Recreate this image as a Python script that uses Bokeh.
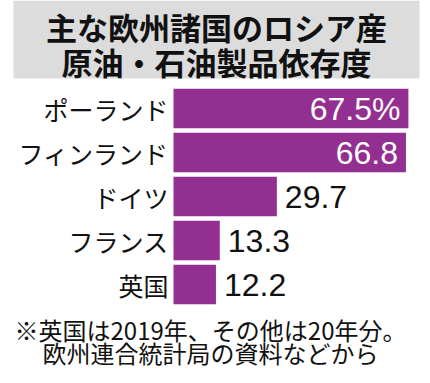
from bokeh.plotting import figure
from bokeh.models import Range1d, ColumnDataSource, Label, BoxAnnotation
from bokeh.core.properties import value
from bokeh.embed import file_html
from bokeh.resources import INLINE

# ---- data ----
title_lines = ["主な欧州諸国のロシア産", "原油・石油製品依存度"]
countries = ["ポーランド", "フィンランド", "ドイツ", "フランス", "英国"]
values = [67.5, 66.8, 29.7, 13.3, 12.2]
value_labels = ["67.5%", "66.8", "29.7", "13.3", "12.2"]
notes = ["※英国は2019年、その他は20年分。", "欧州連合統計局の資料などから"]

JP = "Noto Sans CJK JP"
BAR = "#942f92"
W, H = 421, 375
PX_PER_UNIT = 3.48   # horizontal scale
ZERO_X = 173         # canvas x of value 0
BAND = 44            # px per category
FIRST_CENTER = 108   # canvas y (from top) of first category centre

src = ColumnDataSource(dict(
    pos=list(range(len(countries))),
    country=countries, value=values, label=value_labels,
    color=["white" if v > 50 else "#111111" for v in values],
    align=["right" if v > 50 else "left" for v in values],
    off=[-8 if v > 50 else 8 for v in values],
))

p = figure(width=W, height=H, output_backend="svg", toolbar_location=None,
           x_range=Range1d(-ZERO_X / PX_PER_UNIT, (W - ZERO_X) / PX_PER_UNIT),
           y_range=Range1d((H - FIRST_CENTER) / BAND, -FIRST_CENTER / BAND),
           min_border=0, min_border_left=0, min_border_right=0,
           min_border_top=0, min_border_bottom=0)
p.axis.visible = False
p.grid.visible = False
p.outline_line_color = None
p.background_fill_color = "white"
p.border_fill_color = "white"

# title box
p.add_layout(BoxAnnotation(left=13, right=419, bottom=H - 78, top=H,
                           left_units="screen", right_units="screen",
                           top_units="screen", bottom_units="screen",
                           fill_color="#dcdcdc", fill_alpha=1.0, line_color=None,
                           level="underlay"))
for line, cy in zip(title_lines, [26, 61]):
    p.add_layout(Label(x=216, y=H - cy, x_units="screen", y_units="screen",
                       text=line, text_align="center", text_baseline="middle",
                       text_font=JP, text_font_style="bold", text_font_size="31px",
                       text_color="#111111"))

# bars
p.hbar(y="pos", left=0, right="value", height=0.9, source=src,
       fill_color=BAR, line_color=None)
# category labels
p.text(x=0, y="pos", text="country", source=src, x_offset=-5,
       text_align="right", text_baseline="middle", text_color="#111111",
       text_font=value(JP), text_font_size=value("25px"))
# value labels
p.text(x="value", y="pos", text="label", source=src,
       text_align="align", x_offset="off", text_baseline="middle",
       text_color="color", text_font=value("Liberation Sans"),
       text_font_size=value("32px"))

# footnote
for line, cy in zip(notes, [329, 352]):
    p.add_layout(Label(x=210, y=H - cy, x_units="screen", y_units="screen",
                       text=line, text_align="center", text_baseline="middle",
                       text_font=JP, text_font_size="24px", text_color="#111111"))

open("out.html", "w").write(file_html(p, INLINE))
